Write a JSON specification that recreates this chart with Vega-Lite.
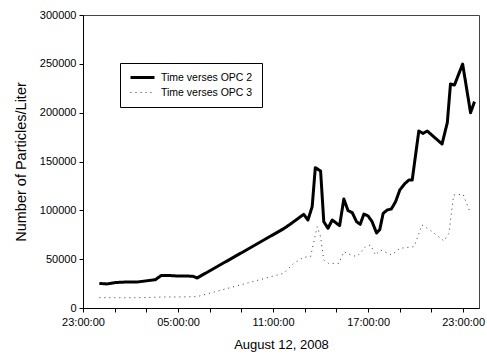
{
  "$schema": "https://vega.github.io/schema/vega-lite/v6.json",
  "width": 396,
  "height": 293,
  "autosize": "none",
  "padding": {"left": 83, "top": 15, "right": 8, "bottom": 52},
  "background": "white",
  "config": {
    "font": "Liberation Sans",
    "view": {"stroke": "#444", "strokeWidth": 1}
  },
  "data": {
    "values": [
      {"time": "2008-08-12T00:02:00", "series": "Time verses OPC 2", "value": 25200},
      {"time": "2008-08-12T00:30:00", "series": "Time verses OPC 2", "value": 24600},
      {"time": "2008-08-12T01:02:00", "series": "Time verses OPC 2", "value": 26000},
      {"time": "2008-08-12T01:40:00", "series": "Time verses OPC 2", "value": 26600},
      {"time": "2008-08-12T02:25:00", "series": "Time verses OPC 2", "value": 26600},
      {"time": "2008-08-12T03:15:00", "series": "Time verses OPC 2", "value": 28300},
      {"time": "2008-08-12T03:34:00", "series": "Time verses OPC 2", "value": 29000},
      {"time": "2008-08-12T03:57:00", "series": "Time verses OPC 2", "value": 33400},
      {"time": "2008-08-12T04:18:00", "series": "Time verses OPC 2", "value": 33400},
      {"time": "2008-08-12T04:56:00", "series": "Time verses OPC 2", "value": 32800},
      {"time": "2008-08-12T05:34:00", "series": "Time verses OPC 2", "value": 32800},
      {"time": "2008-08-12T05:57:00", "series": "Time verses OPC 2", "value": 32400},
      {"time": "2008-08-12T06:12:00", "series": "Time verses OPC 2", "value": 30700},
      {"time": "2008-08-12T09:00:00", "series": "Time verses OPC 2", "value": 56500},
      {"time": "2008-08-12T11:40:00", "series": "Time verses OPC 2", "value": 81200},
      {"time": "2008-08-12T12:06:00", "series": "Time verses OPC 2", "value": 86000},
      {"time": "2008-08-12T12:56:00", "series": "Time verses OPC 2", "value": 95900},
      {"time": "2008-08-12T13:12:00", "series": "Time verses OPC 2", "value": 90100},
      {"time": "2008-08-12T13:28:00", "series": "Time verses OPC 2", "value": 103700},
      {"time": "2008-08-12T13:40:00", "series": "Time verses OPC 2", "value": 143700},
      {"time": "2008-08-12T14:00:00", "series": "Time verses OPC 2", "value": 140300},
      {"time": "2008-08-12T14:12:00", "series": "Time verses OPC 2", "value": 88400},
      {"time": "2008-08-12T14:28:00", "series": "Time verses OPC 2", "value": 81600},
      {"time": "2008-08-12T14:44:00", "series": "Time verses OPC 2", "value": 90100},
      {"time": "2008-08-12T15:12:00", "series": "Time verses OPC 2", "value": 84300},
      {"time": "2008-08-12T15:28:00", "series": "Time verses OPC 2", "value": 111600},
      {"time": "2008-08-12T15:44:00", "series": "Time verses OPC 2", "value": 99700},
      {"time": "2008-08-12T16:00:00", "series": "Time verses OPC 2", "value": 97600},
      {"time": "2008-08-12T16:16:00", "series": "Time verses OPC 2", "value": 88400},
      {"time": "2008-08-12T16:30:00", "series": "Time verses OPC 2", "value": 85700},
      {"time": "2008-08-12T16:44:00", "series": "Time verses OPC 2", "value": 96200},
      {"time": "2008-08-12T17:00:00", "series": "Time verses OPC 2", "value": 94200},
      {"time": "2008-08-12T17:15:00", "series": "Time verses OPC 2", "value": 88400},
      {"time": "2008-08-12T17:32:00", "series": "Time verses OPC 2", "value": 76800},
      {"time": "2008-08-12T17:44:00", "series": "Time verses OPC 2", "value": 80200},
      {"time": "2008-08-12T17:57:00", "series": "Time verses OPC 2", "value": 96900},
      {"time": "2008-08-12T18:12:00", "series": "Time verses OPC 2", "value": 100300},
      {"time": "2008-08-12T18:28:00", "series": "Time verses OPC 2", "value": 101400},
      {"time": "2008-08-12T18:44:00", "series": "Time verses OPC 2", "value": 108900},
      {"time": "2008-08-12T19:00:00", "series": "Time verses OPC 2", "value": 120800},
      {"time": "2008-08-12T19:18:00", "series": "Time verses OPC 2", "value": 127000},
      {"time": "2008-08-12T19:34:00", "series": "Time verses OPC 2", "value": 131000},
      {"time": "2008-08-12T19:47:00", "series": "Time verses OPC 2", "value": 131000},
      {"time": "2008-08-12T20:12:00", "series": "Time verses OPC 2", "value": 181200},
      {"time": "2008-08-12T20:28:00", "series": "Time verses OPC 2", "value": 178800},
      {"time": "2008-08-12T20:44:00", "series": "Time verses OPC 2", "value": 181200},
      {"time": "2008-08-12T21:40:00", "series": "Time verses OPC 2", "value": 167900},
      {"time": "2008-08-12T22:00:00", "series": "Time verses OPC 2", "value": 189800},
      {"time": "2008-08-12T22:12:00", "series": "Time verses OPC 2", "value": 229400},
      {"time": "2008-08-12T22:27:00", "series": "Time verses OPC 2", "value": 228300},
      {"time": "2008-08-12T22:58:00", "series": "Time verses OPC 2", "value": 249800},
      {"time": "2008-08-12T23:28:00", "series": "Time verses OPC 2", "value": 200000},
      {"time": "2008-08-12T23:43:00", "series": "Time verses OPC 2", "value": 211300},

      {"time": "2008-08-12T00:02:00", "series": "Time verses OPC 3", "value": 10600},
      {"time": "2008-08-12T01:00:00", "series": "Time verses OPC 3", "value": 10500},
      {"time": "2008-08-12T02:00:00", "series": "Time verses OPC 3", "value": 10500},
      {"time": "2008-08-12T03:00:00", "series": "Time verses OPC 3", "value": 10700},
      {"time": "2008-08-12T04:00:00", "series": "Time verses OPC 3", "value": 11300},
      {"time": "2008-08-12T05:00:00", "series": "Time verses OPC 3", "value": 11300},
      {"time": "2008-08-12T06:12:00", "series": "Time verses OPC 3", "value": 11600},
      {"time": "2008-08-12T09:00:00", "series": "Time verses OPC 3", "value": 23900},
      {"time": "2008-08-12T11:40:00", "series": "Time verses OPC 3", "value": 35500},
      {"time": "2008-08-12T12:18:00", "series": "Time verses OPC 3", "value": 45700},
      {"time": "2008-08-12T12:56:00", "series": "Time verses OPC 3", "value": 51900},
      {"time": "2008-08-12T13:22:00", "series": "Time verses OPC 3", "value": 52600},
      {"time": "2008-08-12T13:47:00", "series": "Time verses OPC 3", "value": 83300},
      {"time": "2008-08-12T14:00:00", "series": "Time verses OPC 3", "value": 73000},
      {"time": "2008-08-12T14:12:00", "series": "Time verses OPC 3", "value": 49100},
      {"time": "2008-08-12T14:30:00", "series": "Time verses OPC 3", "value": 45700},
      {"time": "2008-08-12T15:09:00", "series": "Time verses OPC 3", "value": 45700},
      {"time": "2008-08-12T15:28:00", "series": "Time verses OPC 3", "value": 57700},
      {"time": "2008-08-12T15:54:00", "series": "Time verses OPC 3", "value": 54300},
      {"time": "2008-08-12T16:18:00", "series": "Time verses OPC 3", "value": 52600},
      {"time": "2008-08-12T16:50:00", "series": "Time verses OPC 3", "value": 62800},
      {"time": "2008-08-12T17:09:00", "series": "Time verses OPC 3", "value": 64500},
      {"time": "2008-08-12T17:28:00", "series": "Time verses OPC 3", "value": 54300},
      {"time": "2008-08-12T17:47:00", "series": "Time verses OPC 3", "value": 59400},
      {"time": "2008-08-12T18:30:00", "series": "Time verses OPC 3", "value": 54300},
      {"time": "2008-08-12T19:00:00", "series": "Time verses OPC 3", "value": 61100},
      {"time": "2008-08-12T19:54:00", "series": "Time verses OPC 3", "value": 62800},
      {"time": "2008-08-12T20:24:00", "series": "Time verses OPC 3", "value": 85000},
      {"time": "2008-08-12T20:54:00", "series": "Time verses OPC 3", "value": 79900},
      {"time": "2008-08-12T21:48:00", "series": "Time verses OPC 3", "value": 68600},
      {"time": "2008-08-12T22:06:00", "series": "Time verses OPC 3", "value": 76500},
      {"time": "2008-08-12T22:24:00", "series": "Time verses OPC 3", "value": 115700},
      {"time": "2008-08-12T23:00:00", "series": "Time verses OPC 3", "value": 116400},
      {"time": "2008-08-12T23:28:00", "series": "Time verses OPC 3", "value": 96900}
    ]
  },
  "mark": {"type": "line", "strokeJoin": "round", "strokeCap": "butt"},
  "encoding": {
    "x": {
      "field": "time",
      "type": "temporal",
      "title": "August 12, 2008",
      "scale": {
        "domain": [
          {"year": 2008, "month": 8, "date": 11, "hours": 23},
          {"year": 2008, "month": 8, "date": 13, "hours": 0}
        ]
      },
      "axis": {
        "values": [
          {"year": 2008, "month": 8, "date": 11, "hours": 23},
          {"year": 2008, "month": 8, "date": 12, "hours": 1},
          {"year": 2008, "month": 8, "date": 12, "hours": 3},
          {"year": 2008, "month": 8, "date": 12, "hours": 5},
          {"year": 2008, "month": 8, "date": 12, "hours": 7},
          {"year": 2008, "month": 8, "date": 12, "hours": 9},
          {"year": 2008, "month": 8, "date": 12, "hours": 11},
          {"year": 2008, "month": 8, "date": 12, "hours": 13},
          {"year": 2008, "month": 8, "date": 12, "hours": 15},
          {"year": 2008, "month": 8, "date": 12, "hours": 17},
          {"year": 2008, "month": 8, "date": 12, "hours": 19},
          {"year": 2008, "month": 8, "date": 12, "hours": 21},
          {"year": 2008, "month": 8, "date": 12, "hours": 23}
        ],
        "labelExpr": "hours(datum.value) % 6 == 5 ? timeFormat(datum.value, '%H:%M:%S') : ''",
        "grid": false,
        "domainColor": "black",
        "tickColor": "black",
        "tickSize": 4,
        "labelFontSize": 11,
        "labelColor": "black",
        "labelPadding": 4,
        "labelFlush": false,
        "labelOverlap": false,
        "titleFontSize": 13,
        "titleFontWeight": "normal",
        "titleColor": "black",
        "titlePadding": 11
      }
    },
    "y": {
      "field": "value",
      "type": "quantitative",
      "title": "Number of Particles/Liter",
      "scale": {"domain": [0, 300000], "nice": false},
      "axis": {
        "values": [0, 50000, 100000, 150000, 200000, 250000, 300000],
        "format": "d",
        "grid": false,
        "domainColor": "black",
        "tickColor": "black",
        "tickSize": 4,
        "labelFontSize": 11,
        "labelColor": "black",
        "labelPadding": 3,
        "titleFontSize": 14.5,
        "titleFontWeight": "normal",
        "titleColor": "black",
        "titlePadding": 11
      }
    },
    "color": {
      "field": "series",
      "type": "nominal",
      "scale": {"range": ["black", "#333"]},
      "legend": {
        "title": null,
        "orient": "none",
        "legendX": 37,
        "legendY": 48,
        "strokeColor": "black",
        "fillColor": "white",
        "padding": 9,
        "cornerRadius": 0,
        "labelFontSize": 10.5,
        "labelColor": "black",
        "labelOffset": 5,
        "symbolType": "stroke",
        "symbolSize": 576,
        "clipHeight": 11,
        "rowPadding": 4
      }
    },
    "strokeDash": {
      "field": "series",
      "type": "nominal",
      "scale": {"range": [[1, 0], [1, 4]]},
      "legend": null
    },
    "strokeWidth": {
      "field": "series",
      "type": "nominal",
      "scale": {"range": [3, 1]},
      "legend": null
    }
  }
}
